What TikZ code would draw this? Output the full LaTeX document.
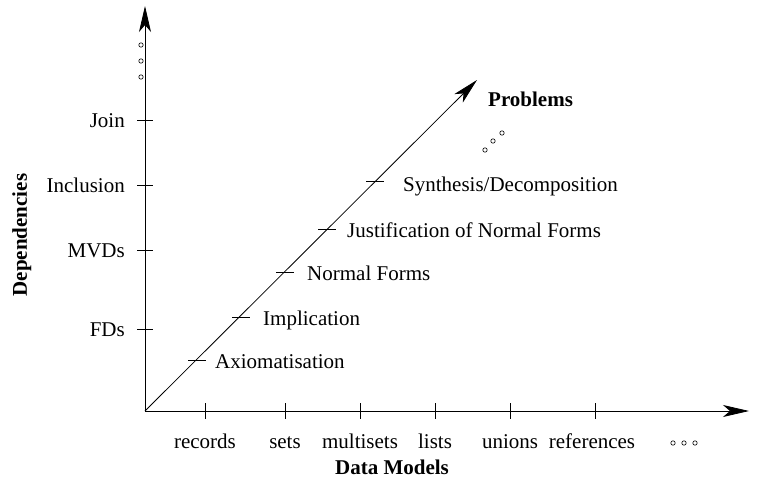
\documentclass[tikz,border=0pt]{standalone}
\usepackage{fontspec}
\setmainfont{Liberation Serif}
\usetikzlibrary{arrows.meta}
\begin{document}
\begin{tikzpicture}[x=1pt,y=-1pt,
  axis/.style={line width=0.8pt,-{Stealth[length=26pt,width=12pt,inset=7pt]}},
  tick/.style={line width=0.8pt},
  lbl/.style={font=\fontsize{21}{24}\selectfont,inner sep=0pt,text height=14pt,text depth=4pt},
  bold/.style={lbl,font=\fontsize{21}{24}\selectfont\bfseries},
  dot/.style={circle,draw,line width=0.6pt,inner sep=0pt,minimum size=4.4pt}]
\useasboundingbox (0,0) rectangle (758,484);
\coordinate (O) at (145,411);
\coordinate (Y) at (145,6);
\coordinate (X) at (749,411);
\coordinate (D) at (477,80);
\draw[axis] (O) -- (Y);
\draw[axis] (O) -- (X);
\draw[axis] (O) -- (D);
% x ticks
\foreach \x/\t in {205/records,285/sets,360/multisets,435/lists,510/unions}{
  \draw[tick] (\x,403) -- (\x,419);
  \node[lbl] at (\x,443) {\t};
}
\draw[tick] (595,403) -- (595,419);
\node[lbl] (ref) at (592,443) {references};
\node[dot] (xd1) at (673,443) {};
\node[dot] (xd2) at (684,443) {};
\node[dot] (xd3) at (695,443) {};
% y ticks
\foreach \y/\t in {329/FDs,250/MVDs,185/Inclusion,120/Join}{
  \draw[tick] (137,\y) -- (153,\y);
  \node[lbl,anchor=east] at (125,\y+2.5) {\t};
}
\node[dot] (yd1) at (141,45) {};
\node[dot] (yd2) at (141,61) {};
\node[dot] (yd3) at (141,77) {};
% diagonal ticks
\foreach \x/\y in {197/360,241/317,285/272,327/229,375/181}{
  \draw[tick] (\x-9,\y) -- (\x+9,\y);
}
\node[lbl,anchor=west] (a1) at (215,363) {Axiomatisation};
\node[lbl,anchor=west] (a2) at (263,320) {Implication};
\node[lbl,anchor=west] (a3) at (307,275) {Normal Forms};
\node[lbl,anchor=west] (a4) at (347,232) {Justification of Normal Forms};
\node[lbl,anchor=west] (a5) at (403,187) {Synthesis/Decomposition};
\node[bold,anchor=west] (pr) at (488,102) {Problems};
\node[dot] (dd1) at (485,150) {};
\node[dot] (dd2) at (493,141) {};
\node[dot] (dd3) at (502,133) {};
\node[bold] (xl) at (392,469) {Data Models};
\node[bold,rotate=90] (yl) at (22,235) {Dependencies};
\end{tikzpicture}
\end{document}
